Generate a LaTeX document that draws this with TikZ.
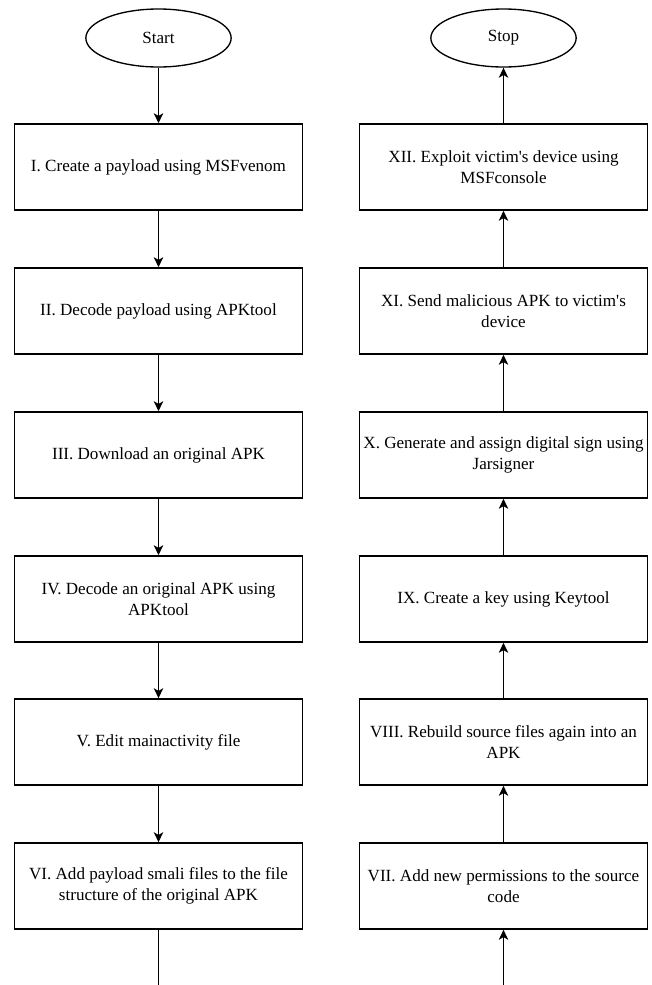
\documentclass[tikz,border=0pt]{standalone}
\usepackage{fontspec}
\setmainfont{Liberation Serif}
\usetikzlibrary{shapes.geometric,arrows.meta}

\begin{document}
\begin{tikzpicture}[x=0.75pt,y=-0.75pt,
  stepbox/.style={draw,line width=1.1pt,minimum width=216pt,minimum height=64.5pt,inner xsep=0.5pt,align=center,font=\rmfamily\fontsize{12.8}{15.75}\selectfont},
  term/.style={draw,ellipse,line width=1pt,minimum width=109pt,minimum height=43.5pt,font=\rmfamily\fontsize{12.8}{15.75}\selectfont},
  flow/.style={line width=1.1pt,-{Stealth[length=7.5pt,width=7pt,inset=2pt]}}]
\useasboundingbox (0,0) rectangle (651,985);
\node[term] (start) at (158.5,38) {Start};
\node[term] (stop) at (503.5,38) {Stop};
\node[stepbox] (s1) at (158.5,167) {I. Create a payload using MSFvenom};
\node[stepbox] (s2) at (158.5,311) {II. Decode payload using APKtool};
\node[stepbox] (s3) at (158.5,455) {III. Download an original APK};
\node[stepbox] (s4) at (158.5,599) {IV. Decode an original APK using\\APKtool};
\node[stepbox] (s5) at (158.5,742) {V. Edit mainactivity file};
\node[stepbox] (s6) at (158.5,886) {VI. Add payload smali files to the file\\structure of the original APK};
\node[stepbox] (s7) at (503.5,886) {VII. Add new permissions to the source\\code};
\node[stepbox] (s8) at (503.5,742) {VIII. Rebuild source files again into an\\APK};
\node[stepbox] (s9) at (503.5,599) {IX. Create a key using Keytool};
\node[stepbox] (s10) at (503.5,455) {X. Generate and assign digital sign using\\Jarsigner};
\node[stepbox] (s11) at (503.5,311) {XI. Send malicious APK to victim\textquotesingle s\\device};
\node[stepbox] (s12) at (503.5,167) {XII. Exploit victim\textquotesingle s device using\\MSFconsole};
\coordinate (lend) at (158.5,985);
\coordinate (rend) at (503.5,985);
\draw[flow] (start) -- (s1);
\draw[flow] (s1) -- (s2);
\draw[flow] (s2) -- (s3);
\draw[flow] (s3) -- (s4);
\draw[flow] (s4) -- (s5);
\draw[flow] (s5) -- (s6);
\draw[line width=1.1pt] (s6) -- (lend);
\draw[flow] (rend) -- (s7);
\draw[flow] (s7) -- (s8);
\draw[flow] (s8) -- (s9);
\draw[flow] (s9) -- (s10);
\draw[flow] (s10) -- (s11);
\draw[flow] (s11) -- (s12);
\draw[flow] (s12) -- (stop);
\end{tikzpicture}
\end{document}
